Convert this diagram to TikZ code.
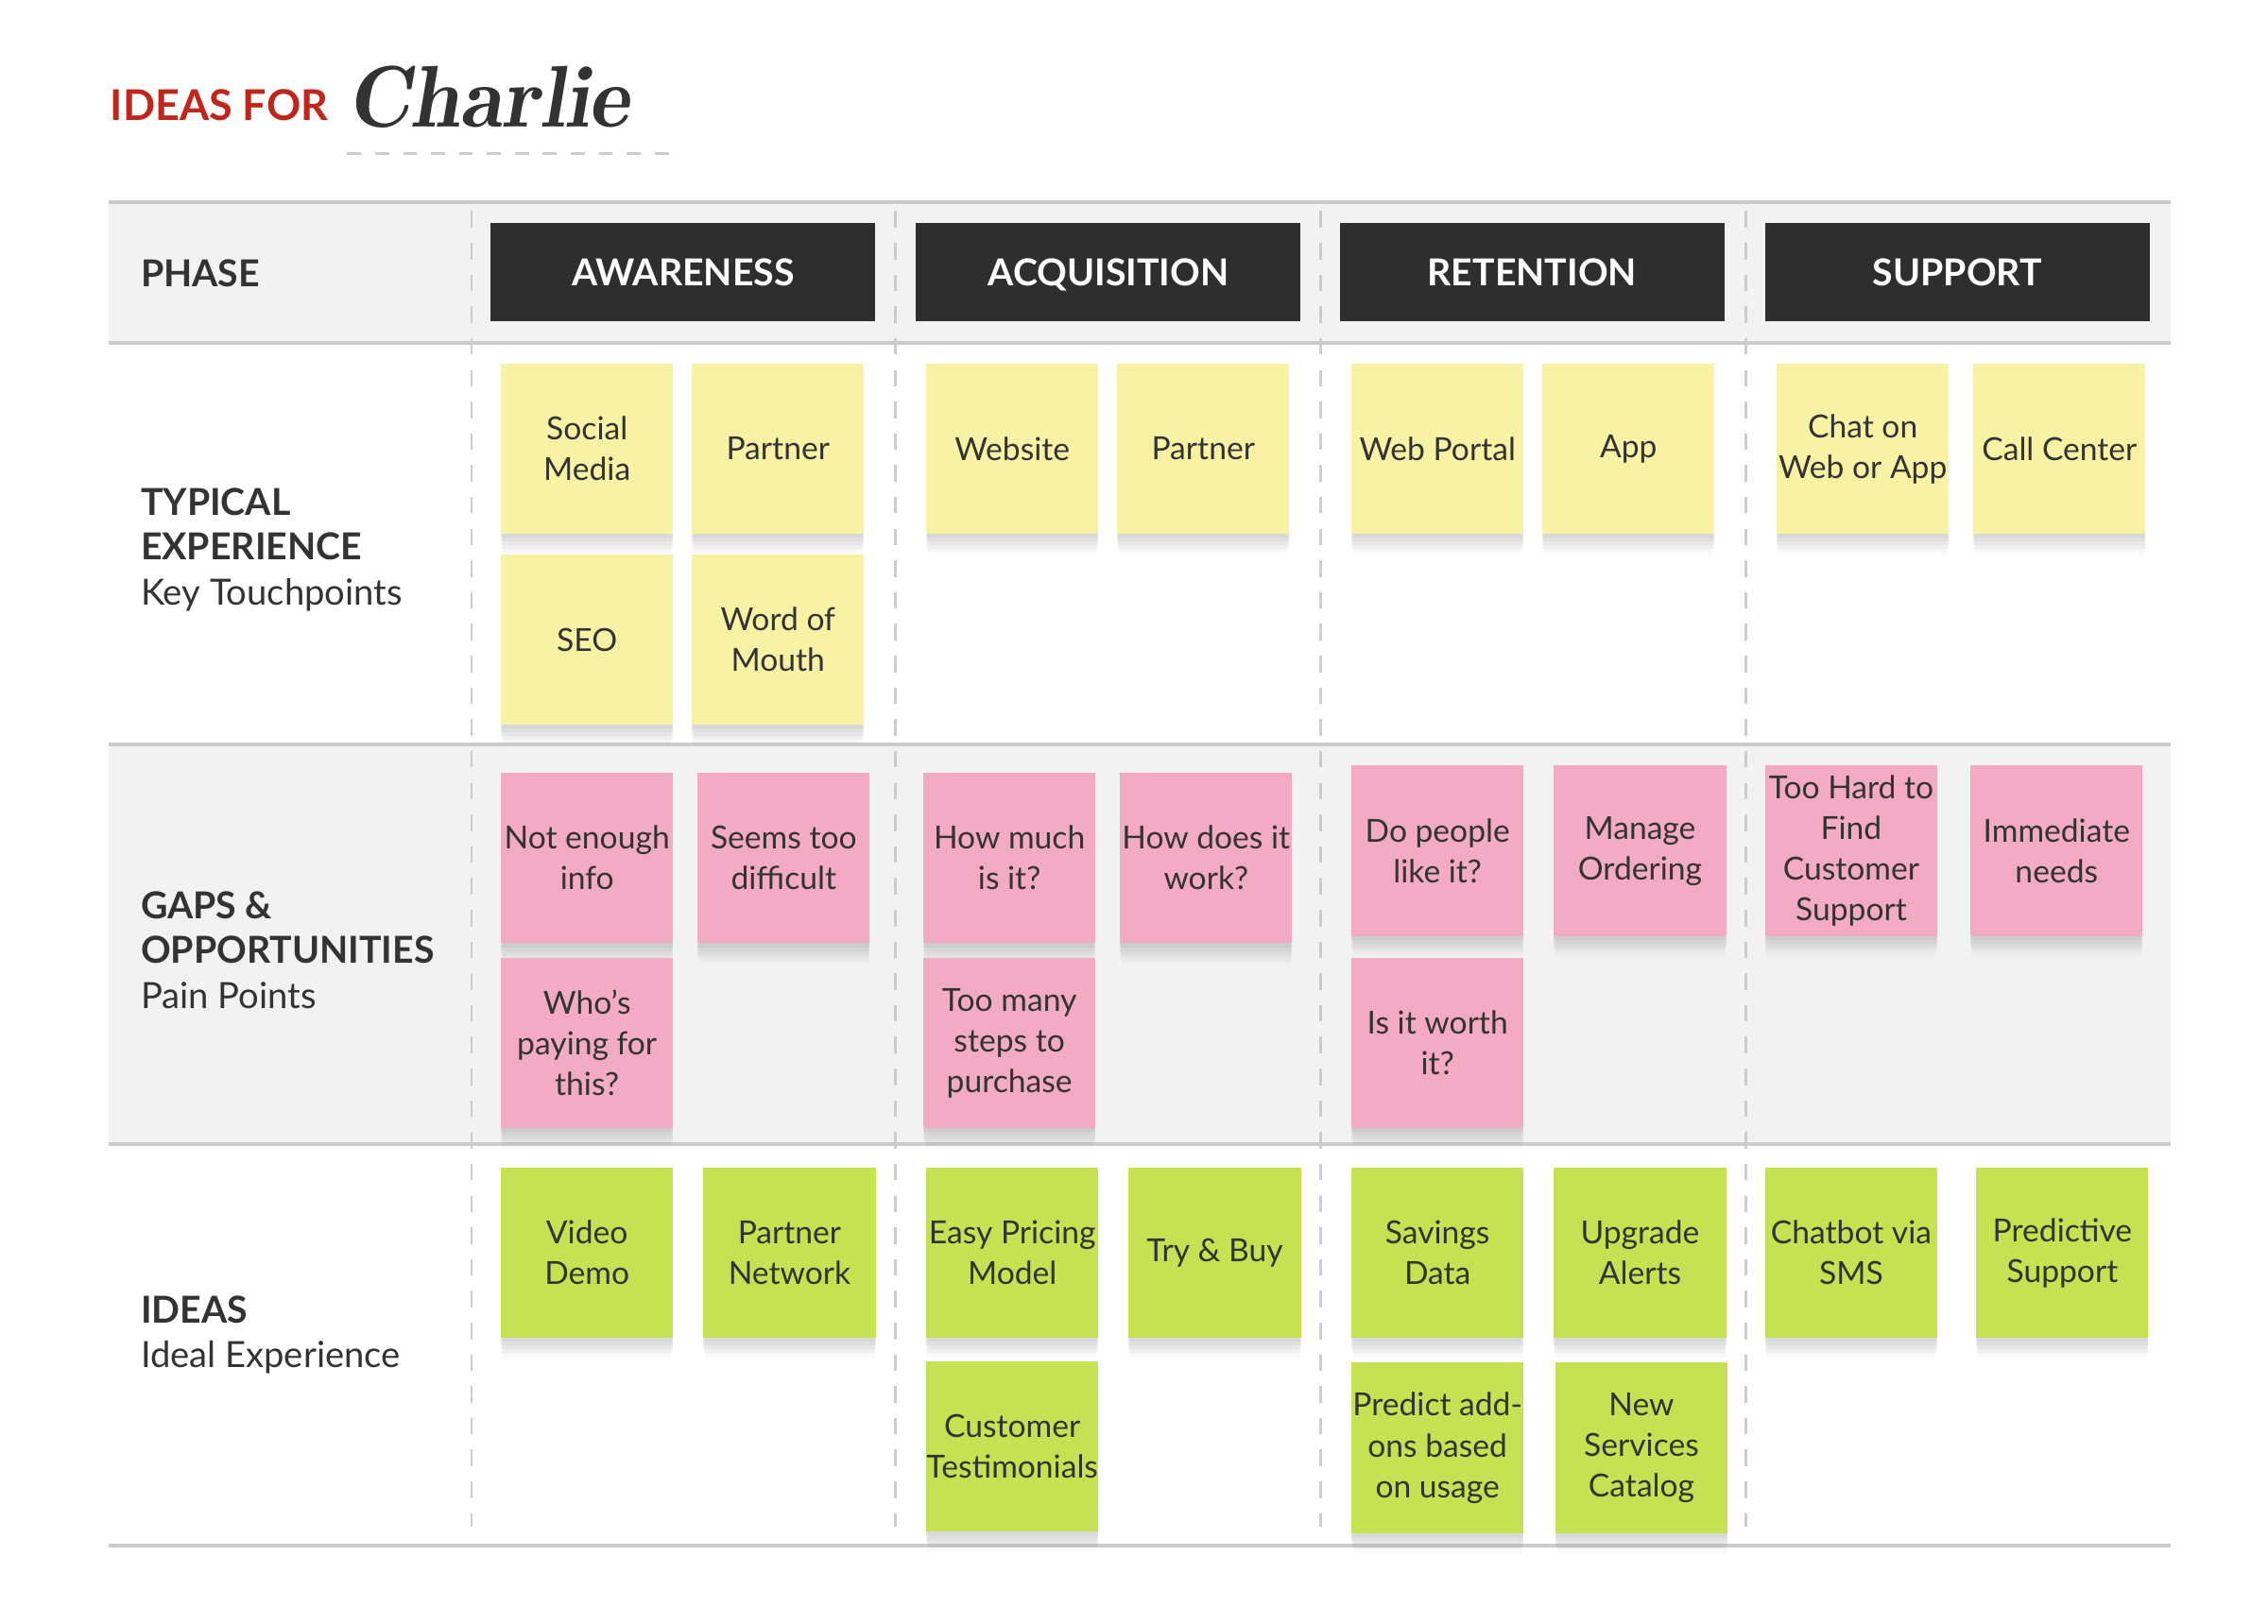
\documentclass[tikz,border=0pt]{standalone}
\usepackage{fontspec}
\setmainfont{Lato}
\usepackage{xcolor}
\usepackage{tikz}
\usetikzlibrary{shadows}

\definecolor{inkgray}{HTML}{333333}
\definecolor{titlered}{HTML}{C0261C}
\definecolor{headdark}{HTML}{2E2E2E}
\definecolor{bandgray}{HTML}{F2F2F2}
\definecolor{rulegray}{HTML}{CCCCCC}
\definecolor{stickyyellow}{HTML}{F8F2A5}
\definecolor{stickypink}{HTML}{F3AAC4}
\definecolor{stickygreen}{HTML}{C6E253}

\begin{document}
\begin{tikzpicture}[x=0.02cm,y=-0.02cm,font=\fontsize{12.5}{16}\selectfont,text=inkgray,
  note/.style={anchor=north west,minimum width=2.38cm,minimum height=2.36cm,inner sep=0pt,align=center,
    drop shadow={shadow xshift=0pt,shadow yshift=-1.5pt,opacity=.08},
    drop shadow={shadow xshift=0pt,shadow yshift=-3pt,opacity=.08},
    drop shadow={shadow xshift=0pt,shadow yshift=-4.5pt,opacity=.07},
    drop shadow={shadow xshift=0pt,shadow yshift=-6pt,shadow scale=.995,opacity=.06},
    drop shadow={shadow xshift=0pt,shadow yshift=-7.5pt,shadow scale=.99,opacity=.04},
    drop shadow={shadow xshift=0pt,shadow yshift=-9pt,shadow scale=.98,opacity=.03}},
  phasebox/.style={anchor=north west,fill=headdark,text=white,minimum width=5.32cm,minimum height=1.36cm,
    inner sep=0pt,text height=10.5pt,text depth=0pt,font=\fontsize{14.6}{17}\selectfont\bfseries},
  rowlabel/.style={anchor=west,align=left,inner sep=0pt,font=\fontsize{14.2}{17.6}\selectfont},
  rule/.style={draw=rulegray,line width=1.6pt},
  divider/.style={draw=rulegray,line width=1pt,dash pattern=on 6.5pt off 6pt}]
\useasboundingbox (0,0) rectangle (1568,1123);

% title
\node[anchor=base west,inner sep=0pt,text=titlered,font=\fontsize{16.7}{18}\selectfont\bfseries] (ideasfor) at (76,83) {IDEAS FOR};
\node[anchor=base west,inner sep=0pt,font=\fontsize{34.5}{40}\fontfamily{lmr}\selectfont\bfseries\itshape] (charlie) at (240,88) {Charlie};
\draw[divider,line width=1.1pt,dash pattern=on 5.5pt off 5.5pt] (240,106) -- (470,106);

% table bands and rules
\fill[bandgray] (75,140) rectangle (1501,237);
\fill[bandgray] (75,515) rectangle (1501,791);
\foreach \x in {326,619,913,1207} {
  \draw[divider] (\x,146) -- (\x,1056);
}
\foreach \y in {140,237,515,791,1069} {
  \draw[rule] (75,\y) -- (1501,\y);
}

% phase headers
\foreach \n/\x/\lab in {awareness/339/AWARENESS,acquisition/633/ACQUISITION,retention/926/RETENTION,support/1220/SUPPORT} {
  \node[phasebox] (\n) at (\x,154) {\lab};
}

% row labels
\node[rowlabel,font=\fontsize{14.6}{17}\selectfont\bfseries] (phase) at (97,189) {PHASE};
\node[rowlabel] (typical) at (97,380) {{\fontsize{14.6}{17.6}\selectfont\bfseries TYPICAL}\\{\fontsize{14.6}{17.6}\selectfont\bfseries EXPERIENCE}\\Key Touchpoints};
\node[rowlabel] (gaps) at (97,657) {{\fontsize{14.6}{17.6}\selectfont\bfseries GAPS \&}\\{\fontsize{14.6}{17.6}\selectfont\bfseries OPPORTUNITIES}\\Pain Points};
\node[rowlabel] (ideas) at (97,923) {{\fontsize{14.6}{17.6}\selectfont\bfseries IDEAS}\\Ideal Experience};

% touchpoints
\foreach \n/\x/\y/\t in {social/346/251/{Social\\Media},partnerA/478/251/Partner,seo/346/383/SEO,
    word/478/383/{Word of\\Mouth},website/640/251/Website,partnerB/772/251/Partner,
    webportal/934/251/Web Portal,app/1066/251/App,chat/1228/251/{Chat on\\Web or App},
    callcenter/1364/251/Call Center} {
  \node[note,fill=stickyyellow] (\n) at (\x,\y) {\t};
}

% pain points
\foreach \n/\x/\y/\t in {notenough/346/534/{Not enough\\info},seems/482/534/{Seems too\\difficult},
    whopays/346/662/{Who’s\\paying for\\this?},howmuch/638/534/{How much\\is it?},
    howdoes/774/534/{How does it\\work?},toomany/638/662/{Too many\\steps to\\purchase},
    dopeople/934/529/{Do people\\like it?},manage/1074/529/{Manage\\Ordering},
    toohard/1220/529/{Too Hard to\\Find\\Customer\\Support},immediate/1362/529/{Immediate\\needs},
    worth/934/662/{Is it worth\\it?}} {
  \node[note,fill=stickypink] (\n) at (\x,\y) {\t};
}

% ideas
\foreach \n/\x/\y/\t in {video/346/807/{Video\\Demo},network/486/807/{Partner\\Network},
    pricing/640/807/{Easy Pricing\\Model},trybuy/780/807/{Try \& Buy},
    testimonials/640/941/{Customer\\Testimonials},savings/934/807/{Savings\\Data},
    upgrade/1074/807/{Upgrade\\Alerts},predict/934/942/{Predict add-\\ons based\\on usage},
    catalog/1075/942/{New\\Services\\Catalog},chatbot/1220/807/{Chatbot via\\SMS},
    predictive/1366/807/{Predictive\\Support}} {
  \node[note,fill=stickygreen] (\n) at (\x,\y) {\t};
}
\end{tikzpicture}
\end{document}
